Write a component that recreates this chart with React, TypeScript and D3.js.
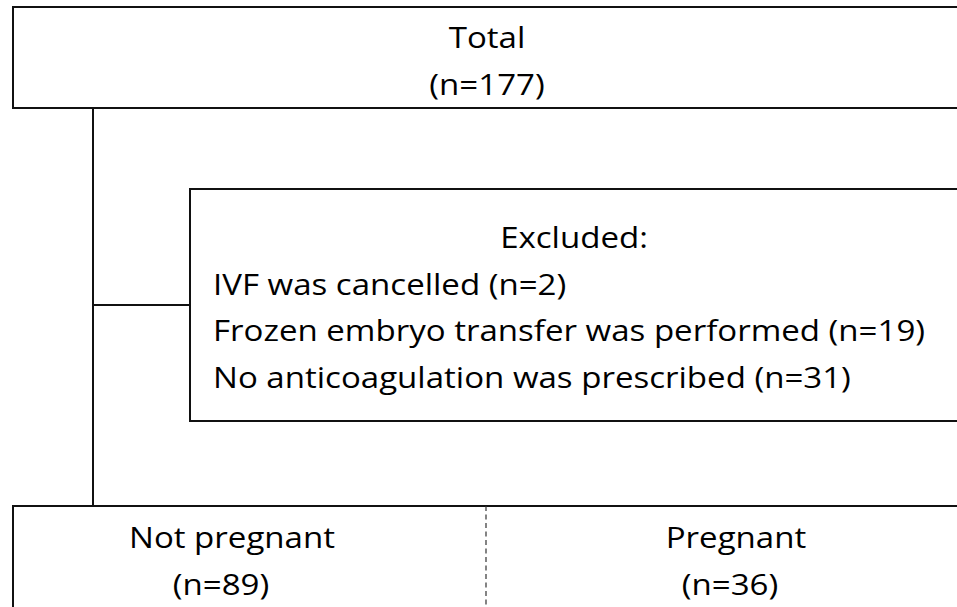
import React, { useEffect, useRef } from 'react';
import * as d3 from 'd3';

// flow values
const totalLabel = 'Total';
const totalCount = 177;
const excludedTitle = 'Excluded:';
const exclusionReasons = ['IVF was cancelled', 'Frozen embryo transfer was performed', 'No anticoagulation was prescribed'];
const exclusionCounts = [2, 19, 31];
const outcomeGroups = ['Not pregnant', 'Pregnant'];
const outcomeCounts = [89, 36];

const width = 957,
      height = 607;

const FONT = '"Open Sans", "Noto Sans", sans-serif';
// the source image is a little stretched sideways
const STRETCH = 1.14;

export default function App() {
  const ref = useRef<SVGSVGElement | null>(null);

  useEffect(() => {
    const svg = d3.select(ref.current);
    svg.selectAll('*').remove();

    // row positions of the three levels
    const y = d3.scaleOrdinal<string, number>()
      .domain(['top', 'excl', 'bottom'])
      .range([7, 189, 506]);

    const lineH = 46.5;
    const trunkX = 93;
    const exclX = 190;
    const exclBottom = 421;

    // connectors
    svg.append('line')
      .attr('x1', trunkX).attr('x2', trunkX)
      .attr('y1', 108).attr('y2', y('bottom'))
      .attr('stroke', '#111').attr('stroke-width', 2);

    svg.append('line')
      .attr('x1', trunkX).attr('x2', exclX)
      .attr('y1', (y('excl') + exclBottom) / 2).attr('y2', (y('excl') + exclBottom) / 2)
      .attr('stroke', '#111').attr('stroke-width', 2);

    // boxes (they run off the right edge)
    const boxes = [
      { x: 13, y0: y('top'), y1: 108 },
      { x: exclX, y0: y('excl'), y1: exclBottom },
      { x: 13, y0: y('bottom'), y1: height + 20 },
    ];
    svg.selectAll('rect.box')
      .data(boxes)
      .enter()
      .append('rect')
        .attr('class', 'box')
        .attr('x', d => d.x)
        .attr('y', d => d.y0)
        .attr('width', d => width + 20 - d.x)
        .attr('height', d => d.y1 - d.y0)
        .attr('fill', 'white')
        .attr('stroke', '#111')
        .attr('stroke-width', 2);

    // dashed divider in the outcome box
    svg.append('line')
      .attr('x1', 486).attr('x2', 486)
      .attr('y1', y('bottom')).attr('y2', height)
      .attr('stroke', '#333')
      .attr('stroke-width', 1.2)
      .attr('stroke-dasharray', '5,3.5');

    const text = (t: string, x: number, yy: number, anchor: string) =>
      svg.append('g')
        .attr('transform', 'translate(' + x + ',' + yy + ') scale(' + STRETCH + ',1)')
        .append('text')
        .attr('text-anchor', anchor)
        .style('font-family', FONT)
        .style('font-size', '29px')
        .attr('fill', '#000')
        .text(t);

    // total
    text(totalLabel, 487, 48, 'middle');
    text('(n=' + totalCount + ')', 487, 48 + lineH, 'middle');

    // excluded
    text(excludedTitle, 574, 248, 'middle');
    exclusionReasons.forEach((r, i) => {
      text(r + ' (n=' + exclusionCounts[i] + ')', 213, 248 + lineH * (i + 1), 'start');
    });

    // outcomes
    const cx = [232, 736];
    const cxN = [221, 730];
    outcomeGroups.forEach((g, i) => {
      text(g, cx[i], 548, 'middle');
      text('(n=' + outcomeCounts[i] + ')', cxN[i], 548 + lineH, 'middle');
    });
  }, []);

  return (
    <svg
      ref={ref}
      width={width}
      height={height}
      style={{ position: 'absolute', left: 0, top: 0, background: 'white' }}
    />
  );
}
